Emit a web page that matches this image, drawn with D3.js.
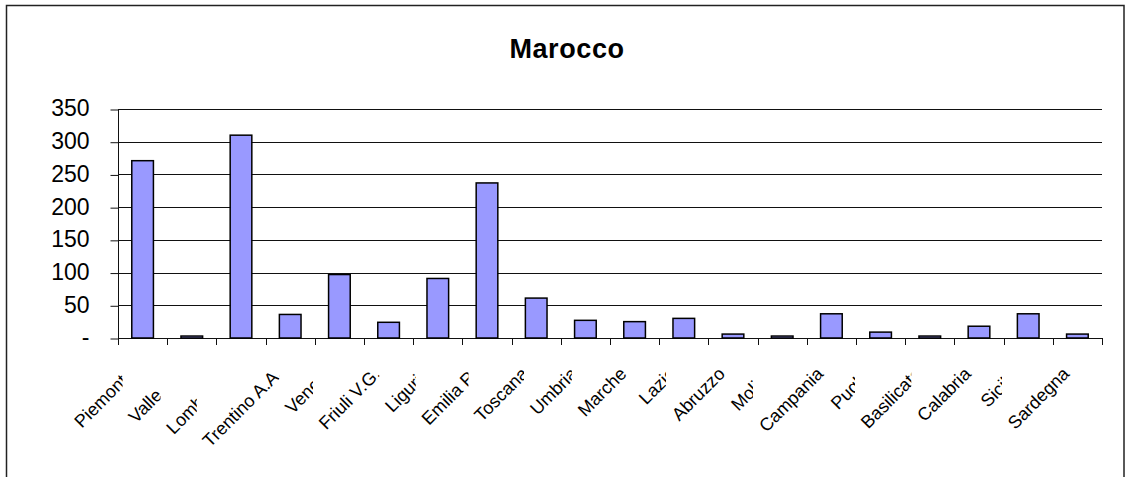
<!DOCTYPE html>
<html><head><meta charset="utf-8">
<script src="https://cdn.jsdelivr.net/npm/d3@7/dist/d3.min.js"></script>
<style>
body{margin:0;background:#fff}
svg{display:block}
text{font-family:"Liberation Sans",Arial,sans-serif;fill:#000}
</style>
</head><body>
<svg id="chart" width="1125" height="477"></svg>
<script>
// ---- data ----
const title = "Marocco";
const regions = ["Piemonte","Valle d'A","Lombardia","Trentino A.A.","Veneto","Friuli V.G.","Liguria","Emilia R.","Toscana","Umbria","Marche","Lazio","Abruzzo","Molise","Campania","Puglia","Basilicata","Calabria","Sicilia","Sardegna"];
const values = [271, 3, 310, 36, 97, 24, 91, 237, 61, 27, 25, 30, 6, 3, 37, 9, 3, 18, 37, 6];
const yTicks = [0, 50, 100, 150, 200, 250, 300, 350];
const yTickLabels = ["-", "50", "100", "150", "200", "250", "300", "350"];

// ---- layout ----
const svg = d3.select("#chart");
const W = 1125, H = 477;
const plot = {left: 118, right: 1102, top: 109, bottom: 338};

// outer frame
svg.append("rect")
  .attr("x", 6.5).attr("y", 5.5)
  .attr("width", 1117.5).attr("height", 490)
  .attr("fill", "#fff").attr("stroke", "#222").attr("stroke-width", 1.5);

// title
svg.append("text")
  .attr("x", 567).attr("y", 58)
  .attr("text-anchor", "middle")
  .attr("font-size", 27).attr("font-weight", "bold")
  .attr("letter-spacing", 0.6)
  .text(title);

const x = d3.scaleBand().domain(regions)
  .range([plot.left, plot.right])
  .paddingInner(0.56).paddingOuter(0.28);
const y = d3.scaleLinear().domain([0, 350]).range([plot.bottom, plot.top]);
const step = x.step();

// gridlines
svg.append("g").selectAll("line").data(yTicks.filter(d => d > 0)).join("line")
  .attr("x1", plot.left).attr("x2", plot.right)
  .attr("y1", d => Math.round(y(d)) + 0.5).attr("y2", d => Math.round(y(d)) + 0.5)
  .attr("stroke", "#111").attr("stroke-width", 1);

// y axis
const yAxis = d3.axisLeft(y).tickValues(yTicks).tickSize(8).tickPadding(21)
  .tickFormat((d, i) => yTickLabels[i]);
const gy = svg.append("g").attr("transform", `translate(${plot.left + 0.5},0.5)`).call(yAxis);
gy.select(".domain").attr("stroke", "#111").attr("d", `M0,${plot.top - 0.5}V${plot.bottom + 6}`);
gy.selectAll(".tick line").attr("stroke", "#111");
gy.selectAll(".tick text").attr("font-size", 23).attr("font-family", '"Liberation Sans",Arial,sans-serif')
  .attr("dy", "0.28em").attr("fill", "#000");

// x axis line + boundary ticks
const xBounds = d3.range(regions.length + 1).map(i => plot.left + i * step);
svg.append("line")
  .attr("x1", plot.left).attr("x2", plot.right)
  .attr("y1", plot.bottom + 0.5).attr("y2", plot.bottom + 0.5)
  .attr("stroke", "#111");
svg.append("g").selectAll("line").data(xBounds).join("line")
  .attr("x1", d => Math.round(d) + 0.5).attr("x2", d => Math.round(d) + 0.5)
  .attr("y1", plot.bottom).attr("y2", plot.bottom + 7)
  .attr("stroke", "#111");

// bars
svg.append("g").selectAll("rect").data(values).join("rect")
  .attr("x", (d, i) => x(regions[i]))
  .attr("y", d => y(d))
  .attr("width", x.bandwidth())
  .attr("height", d => y(0) - y(d))
  .attr("fill", "#9999ff").attr("stroke", "#000").attr("stroke-width", 1.5);

// category labels, rotated, clipped where the next label starts
const defs = svg.append("defs");
const lg = svg.append("g");
const labelGroups = regions.map((r, i) => {
  const g = lg.append("g");
  const cx = x(r) + x.bandwidth() / 2;
  g.append("text")
    .attr("transform", `translate(${cx - 7},375) rotate(-45)`)
    .attr("text-anchor", "end")
    .attr("font-size", 18)
    .attr("fill", "#111")
    .text(r);
  return g;
});
const boxes = labelGroups.map(g => g.select("text").node().getBoundingClientRect());
labelGroups.forEach((g, i) => {
  const right = i < boxes.length - 1 ? boxes[i + 1].left - 2 : W;
  const id = "clip" + i;
  defs.append("clipPath").attr("id", id).attr("clipPathUnits", "userSpaceOnUse")
    .append("rect").attr("x", 0).attr("y", 0).attr("width", right).attr("height", H);
  g.attr("clip-path", `url(#${id})`);
});
</script>
</body></html>
